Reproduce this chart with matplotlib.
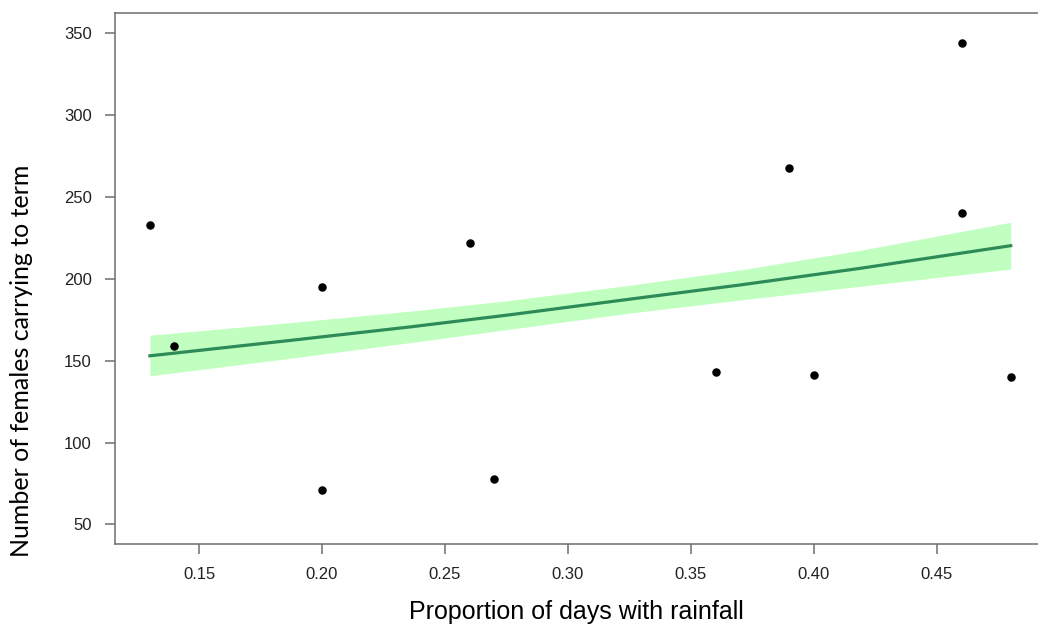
# Number of females carrying to term vs proportion of rainy days, with fitted trend
import numpy as np
import matplotlib.pyplot as plt

# observed years
rain_prop = [0.13, 0.14, 0.20, 0.20, 0.26, 0.27, 0.36, 0.39, 0.40, 0.46, 0.46, 0.48]
females = [233, 159, 195, 71, 222, 78, 143, 268, 141, 344, 240, 140]

# model predictions with confidence band
pred_x = [0.13, 0.187, 0.236, 0.276, 0.325, 0.370, 0.419, 0.48]
pred_fit = [153, 162.4, 170.7, 178, 187.6, 196.3, 206.5, 220.3]
pred_lo = [140.8, 151.5, 161.1, 169.2, 179.1, 187.1, 195.5, 206]
pred_hi = [165.6, 173.3, 180.3, 186.8, 196.1, 205.5, 217.5, 234.6]

xticks = [0.15, 0.20, 0.25, 0.30, 0.35, 0.40, 0.45]
yticks = [50, 100, 150, 200, 250, 300, 350]

fig = plt.figure(figsize=(10.38, 6.30), dpi=100)
ax = fig.add_axes([114.7 / 1038, 86 / 630, (1039 - 114.7) / 1038, 531 / 630])

ax.fill_between(pred_x, pred_lo, pred_hi, color='#c1ffc1', linewidth=0, zorder=1)
ax.plot(pred_x, pred_fit, color='#2e8b57', linewidth=2.3, zorder=2)
ax.scatter(rain_prop, females, s=26, color='black', zorder=3)

ax.set_xlim(0.1157, 0.4915)
ax.set_ylim(38, 362.5)
ax.set_xticks(xticks)
ax.set_xticklabels([f'{t:.2f}' for t in xticks])
ax.set_yticks(yticks)

for sp in ax.spines.values():
    sp.set_color('#6e6e6e')
    sp.set_linewidth(1.1)
ax.tick_params(direction='out', length=7.5, width=1.1, color='#6e6e6e',
               labelsize=12, labelcolor='#222222', pad=9)
for lab in ax.get_xticklabels() + ax.get_yticklabels():
    lab.set_family(['Liberation Sans', 'DejaVu Sans'])

ax.set_xlabel('Proportion of days with rainfall', fontsize=18,
              family=['Liberation Sans', 'DejaVu Sans'], labelpad=13)
# y title sits lower than the axes centre
fig.text(22 / 1038, 1 - 361 / 630, 'Number of females carrying to term',
         rotation=90, ha='center', va='center', fontsize=18,
         family=['Lato', 'DejaVu Sans'])

fig.savefig('out.png', dpi=100)
